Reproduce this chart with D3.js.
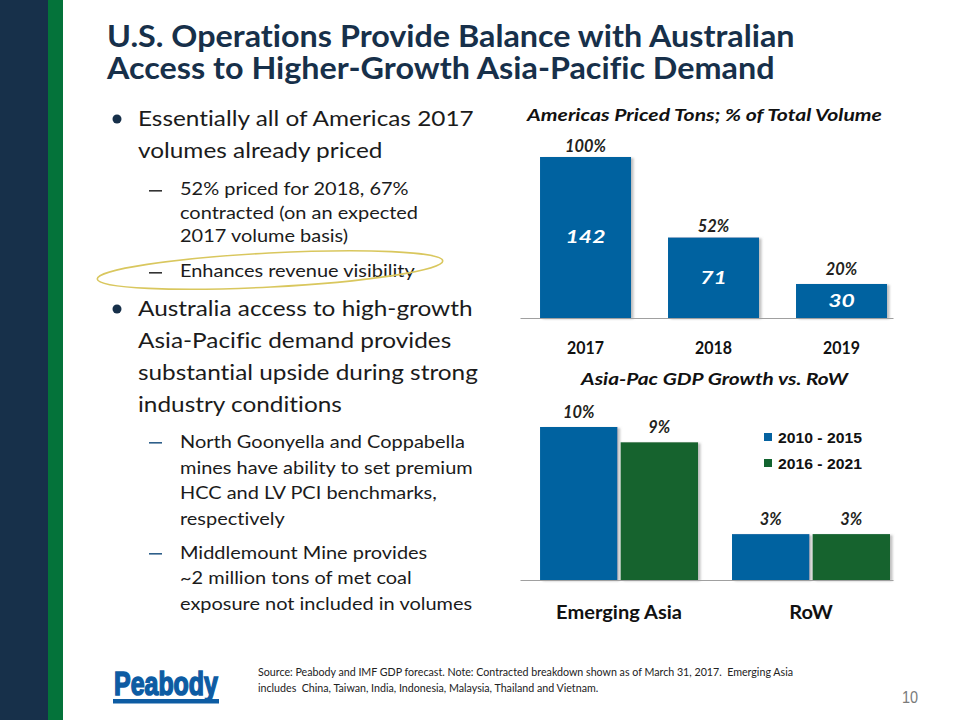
<!DOCTYPE html>
<html><head><meta charset="utf-8">
<script src="https://cdn.jsdelivr.net/npm/d3@7"></script>
<style>body{margin:0;background:#fff}svg{display:block}text{font-variant-ligatures:none;white-space:pre}</style>
</head><body>
<svg id="c" width="960" height="720"></svg>
<script>
// ---------- data ----------
const years = ["2017", "2018", "2019"];
const pricedTons = [142, 71, 30];
const pricedShare = ["100%", "52%", "20%"];
const gdpRegions = ["Emerging Asia", "RoW"];
const gdpPeriods = ["2010 - 2015", "2016 - 2021"];
const gdp2010to2015 = [10, 3];
const gdp2016to2021 = [9, 3];

const titleLines = ["U.S. Operations Provide Balance with Australian", "Access to Higher-Growth Asia-Pacific Demand"];
const bullet1 = ["Essentially all of Americas 2017", "volumes already priced"];
const sub1a = ["52% priced for 2018, 67%", "contracted (on an expected", "2017 volume basis)"];
const sub1b = ["Enhances revenue visibility"];
const bullet2 = ["Australia access to high-growth", "Asia-Pacific demand provides", "substantial upside during strong", "industry conditions"];
const sub2a = ["North Goonyella and Coppabella", "mines have ability to set premium", "HCC and LV PCI benchmarks,", "respectively"];
const sub2b = ["Middlemount Mine provides", "~2 million tons of met coal", "exposure not included in volumes"];
const sourceLines = ["Source: Peabody and IMF GDP forecast. Note: Contracted breakdown shown as of March 31, 2017.  Emerging Asia",
                     "includes  China, Taiwan, India, Indonesia, Malaysia, Thailand and Vietnam."];

// ---------- setup ----------
const svg = d3.select("#c");
const NAVY = "#17304a", BLUE = "#0562a0", GREEN = "#12642f", INK = "#1b1b1b";

const defs = svg.append("defs");
const f = defs.append("filter").attr("id", "sh").attr("x", "-10%").attr("y", "-10%").attr("width", "130%").attr("height", "130%");
f.append("feDropShadow").attr("dx", 2.5).attr("dy", 1).attr("stdDeviation", 1.2)
  .attr("flood-color", "#8c8c8c").attr("flood-opacity", 0.55);

function measure(s, o) {
  const t = svg.append("text").text(s)
    .attr("font-family", o.family || "Lato").attr("font-size", o.size)
    .attr("font-weight", o.weight || 400).attr("font-style", o.style || "normal");
  const w = t.node().getComputedTextLength();
  t.remove();
  return w;
}
function fitScale(ref, target, o) { return target / measure(ref, o); }
function squeeze(sel, sx, x) {
  sel.attr("transform", `translate(${x},0) scale(${sx},1) translate(${-x},0)`);
}
function txt(g, s, x, y, o) {
  const t = g.append("text").attr("x", x).attr("y", y).text(s)
    .attr("font-family", o.family || "Lato").attr("font-size", o.size)
    .attr("font-weight", o.weight || 400).attr("font-style", o.style || "normal")
    .attr("fill", o.fill || INK).attr("text-anchor", o.anchor || "start");
  if (o.stroke) t.attr("stroke", o.stroke).attr("stroke-width", o.strokeWidth || 1);
  if (o.sx && o.sx !== 1) squeeze(t, o.sx, x);
  return t;
}

// ---------- side bars ----------
svg.append("rect").attr("x", 0).attr("y", 0).attr("width", 48).attr("height", 720).attr("fill", NAVY);
svg.append("rect").attr("x", 48).attr("y", 0).attr("width", 15).attr("height", 720).attr("fill", "#04733a");

// ---------- title (one text block, two lines) ----------
const tO = { size: 31, weight: 700, fill: NAVY };
tO.sx = fitScale(titleLines[0], 688, tO);
const title = svg.append("text").attr("x", 107).attr("y", 47)
  .attr("font-family", "Lato").attr("font-size", tO.size).attr("font-weight", 700).attr("fill", NAVY);
titleLines.forEach((l, i) => title.append("tspan").attr("x", 107).attr("dy", i === 0 ? 0 : 32).text(l));
squeeze(title, tO.sx, 107);

// ---------- bullets ----------
const l1 = { size: 21.5 };
l1.sx = fitScale(bullet1[0], 336, l1);
const l2 = { size: 16.5 };
l2.sx = fitScale(sub2a[1], 293, l2);

function block(lines, ys, o, x) { lines.forEach((l, i) => txt(svg, l, x, ys[i], o)); }
function dot(y) { svg.append("circle").attr("cx", 117).attr("cy", y).attr("r", 4.5).attr("fill", NAVY); }
function dash(y, c) { svg.append("rect").attr("x", 149).attr("y", y).attr("width", 13).attr("height", 1.6).attr("fill", c); }

dot(119);
block(bullet1, [126, 158], l1, 138);
dash(190, "#333");
block(sub1a, [195, 219, 242], l2, 180);
dash(272, "#333");
block(sub1b, [277], l2, 180);

// highlight ellipse
svg.append("ellipse").attr("cx", 270).attr("cy", 270).attr("rx", 173).attr("ry", 17)
  .attr("transform", "rotate(-3 270 270)")
  .attr("fill", "none").attr("stroke", "#d9c75e").attr("stroke-width", 1.6);

dot(309);
block(bullet2, [316, 348, 380, 412], l1, 138);
dash(442, "#2e5f8a");
block(sub2a, [448, 474, 499, 525], l2, 180);
dash(553, "#2e5f8a");
block(sub2b, [559, 584, 610], l2, 180);

// ---------- chart 1 ----------
const ctO = { size: 17.5, weight: 700, style: "italic", anchor: "middle", fill: "#111" };
ctO.sx = fitScale("Americas Priced Tons; % of Total Volume", 355, ctO);
txt(svg, "Americas Priced Tons; % of Total Volume", 704.5, 121, ctO);

const x1 = d3.scaleBand().domain(years).range([520, 893]).paddingInner(0.289).paddingOuter(0.1016).align(0.77);
const y1 = d3.scaleLinear().domain([0, 142]).range([318, 157]);
const d1 = years.map((yr, i) => ({ year: yr, v: pricedTons[i], p: pricedShare[i] }));
const g1 = svg.append("g");
g1.selectAll("rect.bar").data(d1).join("rect").attr("class", "bar")
  .attr("x", d => x1(d.year)).attr("y", d => y1(d.v))
  .attr("width", x1.bandwidth()).attr("height", d => y1(0) - y1(d.v))
  .attr("fill", BLUE).attr("filter", "url(#sh)");

const ax1 = g1.append("g").attr("transform", `translate(0,${y1(0)})`)
  .call(d3.axisBottom(x1).tickSize(0).tickSizeOuter(0));
ax1.select(".domain").attr("stroke", "#a0a0a0").attr("stroke-width", 1.2);
const catO = { size: 17, weight: 700 };
const catS = fitScale("2017", 37, catO);
ax1.selectAll(".tick text").attr("dy", null).attr("y", 36)
  .attr("font-family", "Lato").attr("font-size", 17).attr("font-weight", 700).attr("fill", "#111")
  .attr("transform", `scale(${catS},1)`);

const valO = { size: 17, weight: 700, style: "italic", anchor: "middle", fill: "#fff" };
valO.sx = fitScale("142", 40, valO);
d1.forEach(d => {
  const cx = x1(d.year) + x1.bandwidth() / 2;
  txt(g1, d.v, cx, (y1(d.v) + y1(0)) / 2 + 6, valO);
});
const pctO = { size: 17, weight: 700, style: "italic", anchor: "middle", fill: "#231f20" };
pctO.sx = fitScale("100%", 41, pctO);
d1.forEach((d, i) => {
  const cx = x1(d.year) + x1.bandwidth() / 2;
  txt(g1, d.p, cx, y1(d.v) - (i === 2 ? 9 : 5), pctO);
});

// ---------- chart 2 ----------
const ct2 = Object.assign({}, ctO);
ct2.sx = fitScale("Asia-Pac GDP Growth vs. RoW", 267, ct2);
txt(svg, "Asia-Pac GDP Growth vs. RoW", 714.5, 385, ct2);

const x2 = d3.scaleBand().domain(gdpRegions).range([520, 893]).paddingInner(0.177).paddingOuter(0.06).align(0.87);
const x2i = d3.scaleBand().domain(gdpPeriods).range([0, x2.bandwidth()]).paddingInner(0.04);
const y2 = d3.scaleLinear().domain([0, 10]).range([580, 427]);
const col = d3.scaleOrdinal().domain(gdpPeriods).range([BLUE, GREEN]);
const d2 = gdpRegions.map((r, i) => ({ region: r, vals: [
  { period: gdpPeriods[0], v: gdp2010to2015[i] },
  { period: gdpPeriods[1], v: gdp2016to2021[i] }] }));
const g2 = svg.append("g");
const grp = g2.selectAll("g.grp").data(d2).join("g").attr("class", "grp")
  .attr("transform", d => `translate(${x2(d.region)},0)`);
grp.selectAll("rect").data(d => d.vals).join("rect")
  .attr("x", d => x2i(d.period)).attr("y", d => y2(d.v))
  .attr("width", x2i.bandwidth()).attr("height", d => y2(0) - y2(d.v))
  .attr("fill", d => col(d.period)).attr("filter", "url(#sh)");

const ax2 = g2.append("g").attr("transform", `translate(0,${y2(0)})`)
  .call(d3.axisBottom(x2).tickSize(0).tickSizeOuter(0));
ax2.select(".domain").attr("stroke", "#a0a0a0").attr("stroke-width", 1.2);
const cat2O = { size: 19, weight: 700 };
const cat2S = fitScale("Emerging Asia", 126, cat2O);
ax2.selectAll(".tick text").attr("dy", null).attr("y", 39)
  .attr("font-family", "Lato").attr("font-size", 19).attr("font-weight", 700).attr("fill", "#111")
  .attr("transform", `scale(${cat2S},1)`);

const pct2 = Object.assign({}, pctO);
d2.forEach(r => r.vals.forEach(d => {
  const cx = x2(r.region) + x2i(d.period) + x2i.bandwidth() / 2;
  txt(g2, d.v + "%", cx, y2(d.v) - 9, pct2);
}));

// legend
const lgO = { family: "Liberation Sans", size: 15, weight: 700, fill: "#111" };
lgO.sx = fitScale(gdpPeriods[0], 84, lgO);
gdpPeriods.forEach((p, i) => {
  svg.append("rect").attr("x", 764).attr("y", 433 + i * 26).attr("width", 8).attr("height", 8).attr("fill", col(p));
  txt(svg, p, 778, 443 + i * 26, lgO);
});

// ---------- footer ----------
const logoO = { family: "Liberation Sans", size: 33, weight: 700, fill: "#0d5ca3", stroke: "#0d5ca3", strokeWidth: 1.6 };
logoO.sx = fitScale("Peabody", 104, logoO);
txt(svg, "Peabody", 114, 695, logoO);
svg.append("rect").attr("x", 113).attr("y", 699).attr("width", 106).attr("height", 4.5).attr("fill", "#0d5ca3");

const srcO = { size: 11.5, fill: "#222" };
srcO.sx = fitScale(sourceLines[0], 536, srcO);
sourceLines.forEach((l, i) => txt(svg, l, 258, 676 + i * 16, srcO));

txt(svg, "10", 918, 703, { family: "Liberation Sans", size: 17, fill: "#7a7a7a", anchor: "end", sx: 0.85 });
</script>
</body></html>
